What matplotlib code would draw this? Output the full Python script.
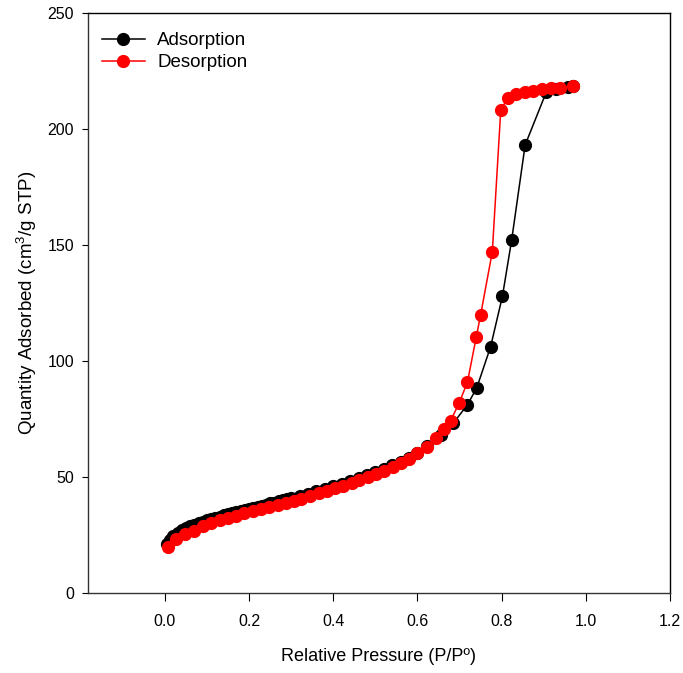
import numpy as np
import matplotlib
matplotlib.use("Agg")
import matplotlib.pyplot as plt

plt.rcParams['font.family'] = ['Liberation Sans', 'DejaVu Sans']
plt.rcParams['mathtext.fontset'] = 'custom'
plt.rcParams['mathtext.rm'] = 'Liberation Sans'
plt.rcParams['mathtext.default'] = 'rm'

# ---- data ----
ads_p = [0.005, 0.012, 0.020, 0.030, 0.040, 0.050, 0.060, 0.070, 0.080, 0.090,
         0.100, 0.110, 0.120, 0.130, 0.140, 0.150, 0.160, 0.170, 0.180, 0.190,
         0.200, 0.210, 0.220, 0.230, 0.240, 0.250, 0.260, 0.270, 0.280, 0.290,
         0.300, 0.320, 0.340, 0.360, 0.380, 0.400, 0.420, 0.440, 0.460, 0.480,
         0.500, 0.520, 0.540, 0.560, 0.580, 0.600, 0.623, 0.657, 0.685, 0.719,
         0.741, 0.774, 0.802, 0.824, 0.856, 0.906, 0.930, 0.958, 0.970]
ads_q = [21.0, 23.0, 24.6, 26.0, 27.0, 27.9, 28.7, 29.4, 30.1, 30.7,
         31.3, 31.9, 32.4, 32.9, 33.4, 33.9, 34.4, 34.9, 35.4, 35.8,
         36.3, 36.8, 37.2, 37.7, 38.1, 38.6, 39.0, 39.5, 39.9, 40.3,
         40.8, 41.8, 42.8, 43.9, 44.9, 46.0, 47.1, 48.2, 49.4, 50.7,
         52.0, 53.4, 55.0, 56.6, 58.3, 60.5, 63.4, 68.1, 73.1, 81.2,
         88.4, 106.2, 127.9, 152.2, 193.1, 215.8, 217.1, 218.2, 218.5]

des_p = [0.970, 0.938, 0.917, 0.895, 0.875, 0.855, 0.835, 0.815, 0.798, 0.778,
         0.750, 0.740, 0.719, 0.699, 0.679, 0.663, 0.643, 0.622, 0.600, 0.581,
         0.561, 0.541, 0.521, 0.502, 0.482, 0.462, 0.444, 0.424, 0.404, 0.385,
         0.365, 0.345, 0.324, 0.306, 0.288, 0.268, 0.248, 0.229, 0.209, 0.189,
         0.169, 0.150, 0.130, 0.110, 0.090, 0.070, 0.048, 0.027, 0.007]
des_q = [218.5, 217.8, 217.5, 217.1, 216.5, 215.8, 214.9, 213.5, 208.0, 147.1,
         119.7, 110.5, 91.0, 81.8, 74.3, 70.6, 66.7, 63.1, 60.2, 57.6,
         55.9, 54.3, 52.6, 51.2, 49.9, 48.6, 47.4, 46.3, 45.1, 44.0,
         43.0, 41.7, 40.5, 39.7, 38.9, 38.1, 37.1, 36.2, 35.3, 34.3,
         33.3, 32.5, 31.5, 30.3, 28.9, 26.9, 25.4, 23.1, 19.8]

x_ticks = [0.0, 0.2, 0.4, 0.6, 0.8, 1.0, 1.2]
y_ticks = [0, 50, 100, 150, 200, 250]

fig = plt.figure(figsize=(6.83, 6.73), dpi=100)
ax = fig.add_axes([0.1288, 0.1189, 0.852, 0.8618])

ax.plot(ads_p, ads_q, color='black', marker='o', markersize=8.5, lw=1.1,
        label='Adsorption')
ax.plot(des_p, des_q, color='red', marker='o', markersize=8.5, lw=1.1,
        label='Desorption')

ax.set_xlim(-0.183, 1.2)
ax.set_ylim(0, 250)
ax.set_xticks(x_ticks)
ax.set_xticklabels([f'{t:.1f}' for t in x_ticks])
ax.set_yticks(y_ticks)
ax.tick_params(axis='x', direction='out', length=6, pad=9, labelsize=11.5)
ax.tick_params(axis='y', direction='out', length=4, pad=6, labelsize=11.5)

for s in ax.spines.values():
    s.set_linewidth(1.0)
ax.spines['left'].set_color('#333333')
ax.spines['bottom'].set_color('#333333')

ax.set_xlabel('Relative Pressure (P/Pº)', fontsize=13, labelpad=14)
ax.set_ylabel('Quantity Adsorbed (cm$^3$/g STP)', fontsize=13.5, labelpad=6)

ax.legend(loc='upper left', bbox_to_anchor=(-0.0086, 0.999), fontsize=13.5,
          frameon=False, handlelength=2.3, borderaxespad=0.6,
          labelspacing=0.25, handletextpad=0.65)

fig.savefig('out.png', dpi=100)
